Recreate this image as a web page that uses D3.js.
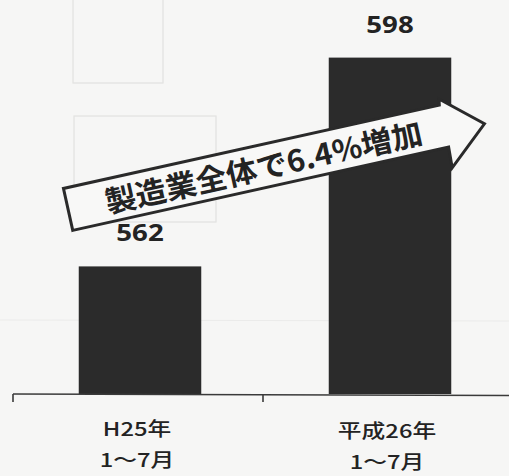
<!DOCTYPE html>
<html>
<head>
<meta charset="utf-8">
<script src="https://cdn.jsdelivr.net/npm/d3@7"></script>
<style>
  html, body { margin: 0; padding: 0; background: #f6f6f5; }
  svg { display: block; }
</style>
</head>
<body>
<svg id="chart" width="509" height="476"></svg>
<script>
// ---- data ----
const categories = ["H25年|1〜7月", "平成26年|1〜7月"];
const values = [562, 598];
const valueLabels = ["562", "598"];
const annotation = "製造業全体で6.4%増加";
const yDomain = [540, 600];

// ---- layout ----
const W = 509, H = 476;
const svg = d3.select("#chart");
const baseY = 394, topY = 46;
const fontJP = "'Noto Sans CJK JP', 'Noto Sans', sans-serif";
const ink = "#232323";

svg.append("rect").attr("width", W).attr("height", H).attr("fill", "#f6f6f5");

// faint scan bleed-through boxes
const ghost = svg.append("g").attr("fill", "none").attr("stroke", "#e2e2e0").attr("stroke-width", 1.2);
ghost.append("rect").attr("x", 73).attr("y", -2).attr("width", 90).attr("height", 85);
ghost.append("rect").attr("x", 74).attr("y", 116).attr("width", 142).attr("height", 106);
ghost.append("line").attr("x1", 0).attr("x2", W).attr("y1", 320).attr("y2", 321).attr("stroke", "#ebebea");

const x = d3.scaleBand()
  .domain(categories)
  .range([15, 515])
  .paddingInner(0.51)
  .paddingOuter(0.255);

const y = d3.scaleLinear().domain(yDomain).range([baseY, topY]);

// bars
svg.append("g").selectAll("rect")
  .data(values)
  .join("rect")
  .attr("x", (d, i) => x(categories[i]))
  .attr("width", x.bandwidth())
  .attr("y", d => y(d))
  .attr("height", d => baseY - y(d))
  .attr("fill", "#2b2b2b");

// axis line and boundary ticks
const step = x.step();
const axisStart = x(categories[0]) - step * x.paddingOuter() - 2;
const axis = svg.append("g").attr("stroke", "#3a3a3a").attr("stroke-width", 1.6);
axis.append("line").attr("x1", axisStart).attr("x2", W).attr("y1", baseY).attr("y2", baseY + 1.5);
categories.forEach((c, i) => {
  const tx = axisStart + i * step;
  axis.append("line").attr("x1", tx).attr("x2", tx).attr("y1", baseY).attr("y2", baseY + 8);
});

// value labels
svg.append("g").selectAll("g")
  .data(values)
  .join("g")
  .attr("transform", (d, i) => `translate(${x(categories[i]) + x.bandwidth() / 2},${y(d) - 25}) scale(1.2,1)`)
  .append("text")
  .attr("text-anchor", "middle")
  .attr("font-family", "'Open Sans', 'Noto Sans', sans-serif")
  .attr("font-weight", 700)
  .attr("font-size", 23)
  .attr("fill", ink)
  .text((d, i) => valueLabels[i]);

// category labels (two lines)
categories.forEach((c, i) => {
  const parts = c.split("|");
  const cx = x(c) + x.bandwidth() / 2 - 3;
  parts.forEach((p, j) => {
    svg.append("g")
      .attr("transform", `translate(${cx},${436 + j * 31 + i * 2}) scale(1.25,1)`)
      .append("text")
      .attr("text-anchor", "middle")
      .attr("font-family", fontJP)
      .attr("font-weight", 500)
      .attr("font-size", 19)
      .attr("fill", ink)
      .text(p);
  });
});

// arrow annotation
const ax0 = x(categories[0]) - 6, ay0 = y(values[0]) - 36;
const arrow = svg.append("g").attr("transform", `translate(${ax0},${ay0}) rotate(-12.5)`);
const arrowPts = [[0, 0], [385, 0], [384, 21], [425, -15], [386, -49], [385, -43], [0, -43]];
arrow.append("path")
  .attr("d", d3.line()(arrowPts) + "Z")
  .attr("fill", "#f8f8f7")
  .attr("stroke", "#2a2a2a")
  .attr("stroke-width", 3)
  .attr("stroke-linejoin", "miter");
arrow.append("text")
  .attr("x", 38)
  .attr("y", -9)
  .attr("font-family", fontJP)
  .attr("font-weight", 700)
  .attr("font-size", 30)
  .attr("fill", ink)
  .attr("textLength", 324)
  .attr("lengthAdjust", "spacingAndGlyphs")
  .text(annotation);
</script>
</body>
</html>
